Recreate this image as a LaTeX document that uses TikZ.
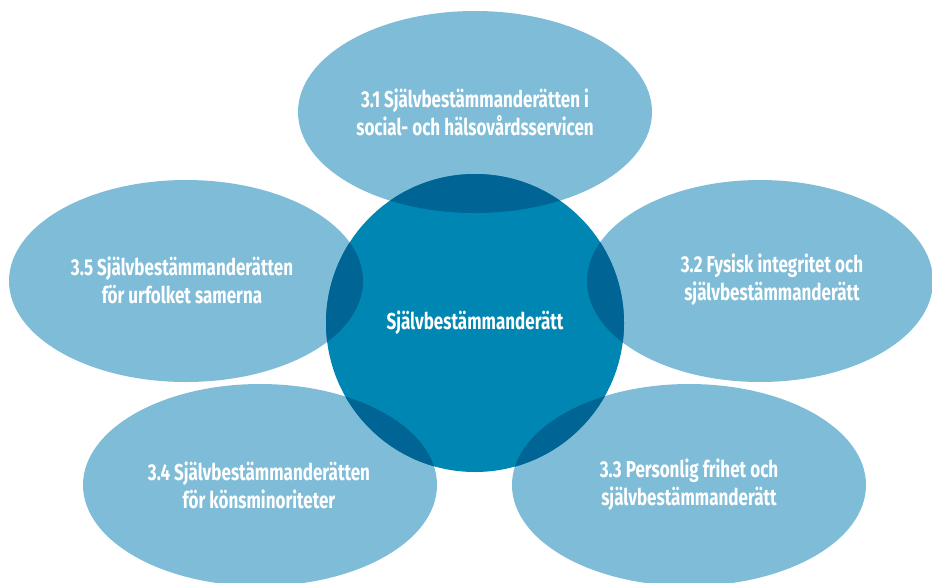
\documentclass[tikz,border=0pt]{standalone}
\usepackage{fontspec}
\setmainfont{Fira Sans}[FakeStretch=0.74]
\usepackage{tikz}

\definecolor{petal}{RGB}{127,188,216}
\definecolor{hub}{RGB}{0,134,178}
\definecolor{overlap}{RGB}{0,100,149}
\tikzset{lbl/.style={text=white, font=\bfseries\fontsize{23}{28}\selectfont, align=center}}

\begin{document}
\begin{tikzpicture}[x=1pt,y=-1pt]
	%%%%% START %%%%%
	\clip (0,0) rectangle (932,582);

	% outer ellipses
	\fill[petal] (475,112) ellipse [x radius=177, y radius=101];
	\fill[petal] (186,281) ellipse [x radius=177, y radius=101];
	\fill[petal] (760,281) ellipse [x radius=173, y radius=101];
	\fill[petal] (260,485) ellipse [x radius=177, y radius=101];
	\fill[petal] (689,485) ellipse [x radius=177, y radius=101];

	% middle circle
	\fill[hub] (475,323) circle (149);

	% darker parts where the ellipses cut into the circle
	\begin{scope}
		\clip (475,323) circle (149);
		\fill[overlap] (475,112) ellipse [x radius=177, y radius=101];
		\fill[overlap] (186,281) ellipse [x radius=177, y radius=101];
		\fill[overlap] (760,281) ellipse [x radius=173, y radius=101];
		\fill[overlap] (260,485) ellipse [x radius=177, y radius=101];
		\fill[overlap] (689,485) ellipse [x radius=177, y radius=101];
	\end{scope}

	\node[lbl] (vard) at (475,112) {3.1 Självbestämmanderätten i\\social- och hälsovårdsservicen};
	\node[lbl] (same) at (182,280) {3.5 Självbestämmanderätten\\för urfolket samerna};
	\node[lbl] (fysisk) at (772,280) {3.2 Fysisk integritet och\\självbestämmanderätt};
	\node[lbl] (kon) at (259,485) {3.4 Självbestämmanderätten\\för könsminoriteter};
	\node[lbl] (frihet) at (689,485) {3.3 Personlig frihet och\\självbestämmanderätt};
	\node[lbl] (mitt) at (475,323) {Självbestämmanderätt};
	%%%%% END %%%%%
\end{tikzpicture}
\end{document}
